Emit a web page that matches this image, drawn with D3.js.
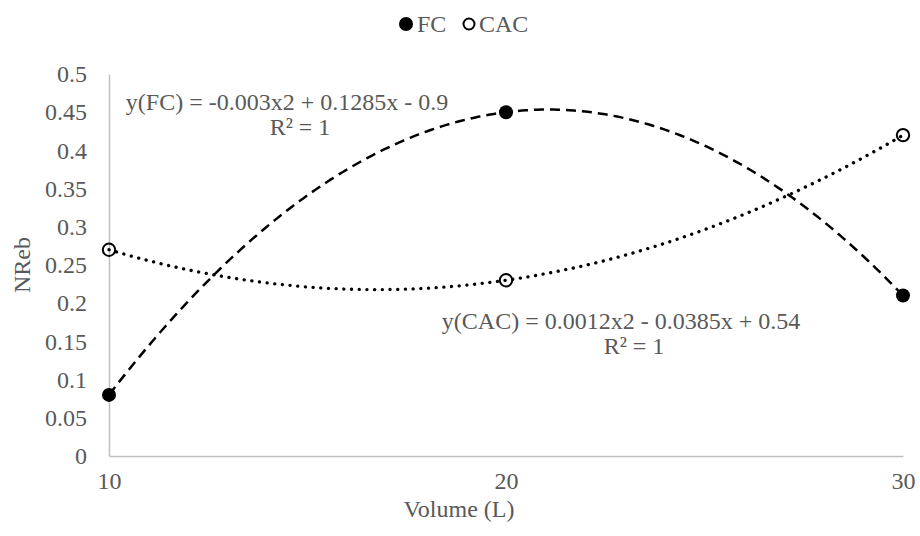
<!DOCTYPE html>
<meta charset="utf-8">
<script src="https://d3js.org/d3.v7.min.js"></script>
<style>
  body { margin: 0; background: #fff; }
  text { font-family: "Liberation Serif", "Times New Roman", serif; fill: #595959; }
</style>
<svg id="chart" width="920" height="536"></svg>
<script>

    // data
    const volumes = [10, 20, 30];
    const fcValues = [0.08, 0.45, 0.21];
    const cacValues = [0.27, 0.23, 0.42];
    const yTicks = [0, 0.05, 0.1, 0.15, 0.2, 0.25, 0.3, 0.35, 0.4, 0.45, 0.5];
    const xTicks = [10, 20, 30];
    const fcEquation = ["y(FC) = -0.003x2 + 0.1285x - 0.9", "R² = 1"];
    const cacEquation = ["y(CAC) = 0.0012x2 - 0.0385x + 0.54", "R² = 1"];

    const serif = "'Liberation Serif', 'Times New Roman', serif";
    const svg = d3.select("#chart");
    const margin = {left: 109, right: 17, top: 74, bottom: 80};
    const width = 920, height = 536;

    const x = d3.scaleLinear().domain([10, 30]).range([margin.left, width - margin.right]);
    const y = d3.scaleLinear().domain([0, 0.5]).range([height - margin.bottom, margin.top]);

    // quadratic through the three points (the trendline Excel draws)
    function quadFit(xs, ys) {
        const [x0, x1, x2] = xs, [y0, y1, y2] = ys;
        return t => y0 * (t - x1) * (t - x2) / ((x0 - x1) * (x0 - x2))
                  + y1 * (t - x0) * (t - x2) / ((x1 - x0) * (x1 - x2))
                  + y2 * (t - x0) * (t - x1) / ((x2 - x0) * (x2 - x1));
    }

    const line = d3.line().x(d => x(d[0])).y(d => y(d[1]));
    const samples = d3.range(10, 30.001, 0.1);

    // axes
    const yAxis = svg.append("g")
        .attr("transform", `translate(${margin.left},0)`)
        .call(d3.axisLeft(y).tickValues(yTicks).tickSize(0).tickPadding(22).tickFormat(d3.format("")));
    const xAxis = svg.append("g")
        .attr("transform", `translate(0,${height - margin.bottom})`)
        .call(d3.axisBottom(x).tickValues(xTicks).tickSize(0).tickPadding(16));
    [yAxis, xAxis].forEach(g => {
        g.attr("font-family", serif).attr("font-size", 24);
        g.select(".domain").attr("stroke", "#bfbfbf").attr("stroke-width", 1.5);
        g.selectAll("text").attr("fill", "#595959");
    });

    // trendlines
    const fcFit = quadFit(volumes, fcValues);
    const cacFit = quadFit(volumes, cacValues);
    svg.append("path")
        .attr("d", line(samples.map(t => [t, fcFit(t)])))
        .attr("fill", "none").attr("stroke", "#000").attr("stroke-width", 2.5)
        .attr("stroke-dasharray", "10 6");
    svg.append("path")
        .attr("d", line(samples.map(t => [t, cacFit(t)])))
        .attr("fill", "none").attr("stroke", "#000").attr("stroke-width", 3.3)
        .attr("stroke-linecap", "round")
        .attr("stroke-dasharray", "0.1 7.6");

    // markers
    svg.append("g").selectAll("circle")
        .data(volumes.map((v, i) => [v, cacValues[i]]))
        .join("circle")
        .attr("cx", d => x(d[0])).attr("cy", d => y(d[1])).attr("r", 6.2)
        .attr("fill", "none").attr("stroke", "#000").attr("stroke-width", 2);
    svg.append("g").selectAll("circle")
        .data(volumes.map((v, i) => [v, fcValues[i]]))
        .join("circle")
        .attr("cx", d => x(d[0])).attr("cy", d => y(d[1])).attr("r", 7)
        .attr("fill", "#000");

    // equations
    const eq = svg.append("g").style("font-size", "24px");
    eq.append("text").attr("x", 287).attr("y", 110).attr("text-anchor", "middle").text(fcEquation[0]);
    eq.append("text").attr("x", 300).attr("y", 135).attr("text-anchor", "middle").text(fcEquation[1]);
    eq.append("text").attr("x", 621).attr("y", 329).attr("text-anchor", "middle").text(cacEquation[0]);
    eq.append("text").attr("x", 634).attr("y", 354).attr("text-anchor", "middle").text(cacEquation[1]);

    // axis titles
    svg.append("text").attr("x", 459).attr("y", 517).attr("text-anchor", "middle")
        .style("font-size", "24px").text("Volume (L)");
    svg.append("text").attr("transform", `translate(30,${y(0.25)}) rotate(-90)`)
        .attr("text-anchor", "middle").style("font-size", "24px").text("NReb");

    // legend
    const legend = svg.append("g").attr("transform", "translate(0,24)").style("font-size", "24px");
    legend.append("circle").attr("cx", 406).attr("cy", 0).attr("r", 7).attr("fill", "#000");
    legend.append("text").attr("x", 417).attr("y", 7.5).text("FC");
    legend.append("circle").attr("cx", 469).attr("cy", 0).attr("r", 5.5).attr("fill", "none")
        .attr("stroke", "#000").attr("stroke-width", 2);
    legend.append("text").attr("x", 479).attr("y", 7.5).text("CAC");

</script>
